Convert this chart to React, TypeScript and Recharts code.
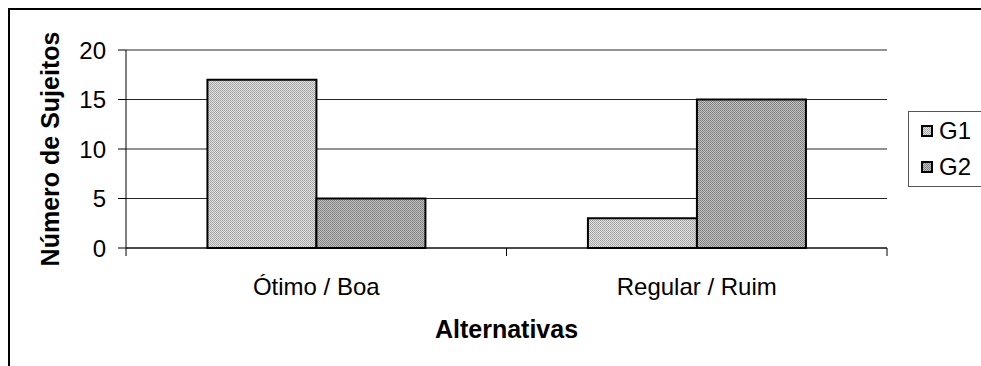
import { Bar, BarChart, CartesianGrid, Legend, XAxis, YAxis } from 'recharts';

const categories = ['Ótimo / Boa', 'Regular / Ruim'];
const g1Values = [17, 3];
const g2Values = [5, 15];
const yTicks = [0, 5, 10, 15, 20];

const FONT = '"Liberation Sans", Arial, sans-serif';

const chartData = categories.map((name, i) => ({
  name,
  G1: g1Values[i],
  G2: g2Values[i],
}));

// category ticks: label in the middle, tick marks on the category borders
const CategoryTick = (props: any) => {
  const { x, y, payload, index, visibleTicksCount } = props;
  const half = payload?.offset ?? 190.5;
  const last = index === (visibleTicksCount ?? categories.length) - 1;
  return (
    <g>
      <line x1={x - half} y1={y} x2={x - half} y2={y + 8} stroke="#000" strokeWidth={1} />
      {last && <line x1={x + half} y1={y} x2={x + half} y2={y + 8} stroke="#000" strokeWidth={1} />}
      <text x={x} y={y + 47} textAnchor="middle" fontSize={24} fontFamily={FONT} fill="#000">
        {payload.value}
      </text>
    </g>
  );
};

const XTitle = (props: any) => {
  const vb = props.viewBox ?? { x: 126, y: 248, width: 761 };
  return (
    <text
      x={vb.x + vb.width / 2}
      y={vb.y + 90}
      textAnchor="middle"
      fontSize={25}
      fontWeight="bold"
      fontFamily={FONT}
      fill="#000"
    >
      Alternativas
    </text>
  );
};

const YTitle = (props: any) => {
  const vb = props.viewBox ?? { x: 0, y: 50, height: 198 };
  const cx = 50;
  const cy = vb.y + vb.height / 2;
  return (
    <text
      x={cx}
      y={cy}
      transform={`rotate(-90 ${cx} ${cy})`}
      textAnchor="middle"
      dominantBaseline="central"
      fontSize={25}
      fontWeight="bold"
      fontFamily={FONT}
      fill="#000"
    >
      Número de Sujeitos
    </text>
  );
};

// zero-size wrapper so the legend takes no room from the plot
const LegendBox = ({ payload }: any) => (
  <div style={{ position: 'relative', width: 0, height: 0 }}>
    <div
      style={{
        position: 'absolute',
        left: 0,
        top: 0,
        border: '1px solid #555',
        width: 90,
        height: 74,
        background: '#fff',
        fontFamily: FONT,
        fontSize: 24,
      }}
    >
      {(payload ?? []).map((entry: any, i: number) => (
        <div
          key={entry.value}
          style={{ position: 'absolute', left: 12, top: 5 + i * 36, display: 'flex', alignItems: 'center', height: 28 }}
        >
          <svg width={12} height={12} style={{ display: 'block' }}>
            <rect x={1} y={1} width={10} height={10} fill={entry.color} stroke="#000" strokeWidth={2} />
          </svg>
          <span style={{ marginLeft: 6, lineHeight: '28px', color: '#000' }}>{entry.value}</span>
        </div>
      ))}
    </div>
  </div>
);

export default function App() {
  return (
    <div style={{ position: 'fixed', left: 0, top: 0, width: 981, height: 366, overflow: 'hidden', background: '#fff' }}>
      <div
        style={{
          position: 'absolute',
          left: 8,
          top: 8,
          width: 1000,
          height: 400,
          borderLeft: '2px solid #000',
          borderTop: '2px solid #000',
        }}
      />
      <div style={{ position: 'absolute', left: 0, top: 0 }}>
        <BarChart
          width={981}
          height={366}
          data={chartData}
          margin={{ top: 50, right: 94, left: 0, bottom: 58 }}
          barCategoryGap="21.4%"
          barGap={0}
        >
          <defs>
            <pattern id="fillG1" width={2} height={2} patternUnits="userSpaceOnUse">
              <rect width={2} height={2} fill="#e4e4e4" />
              <rect width={1} height={1} fill="#9c9c9c" />
              <rect x={1} y={1} width={1} height={1} fill="#a8a8a8" />
            </pattern>
            <pattern id="fillG2" width={2} height={2} patternUnits="userSpaceOnUse">
              <rect width={2} height={2} fill="#c2c2c2" />
              <rect width={1} height={1} fill="#7c7c7c" />
              <rect x={1} y={1} width={1} height={1} fill="#868686" />
            </pattern>
          </defs>
          <CartesianGrid horizontal vertical={false} stroke="#000" strokeOpacity={0.85} />
          <XAxis
            dataKey="name"
            axisLine={{ stroke: '#000' }}
            tickLine={false}
            tickSize={0}
            tickMargin={0}
            height={60}
            interval={0}
            tick={<CategoryTick />}
            label={<XTitle />}
          />
          <YAxis
            domain={[0, 20]}
            ticks={yTicks}
            interval={0}
            width={126}
            axisLine={{ stroke: '#000' }}
            tickLine={{ stroke: '#000' }}
            tickSize={8}
            tickMargin={12}
            tick={{ fontSize: 24, fontFamily: FONT, fill: '#000' }}
            label={<YTitle />}
          />
          <Legend
            content={<LegendBox />}
            wrapperStyle={{ left: 908, top: 111, width: 0, height: 0 }}
          />
          <Bar dataKey="G1" fill="url(#fillG1)" stroke="#000" strokeWidth={2} isAnimationActive={false} />
          <Bar dataKey="G2" fill="url(#fillG2)" stroke="#000" strokeWidth={2} isAnimationActive={false} />
        </BarChart>
      </div>
    </div>
  );
}
